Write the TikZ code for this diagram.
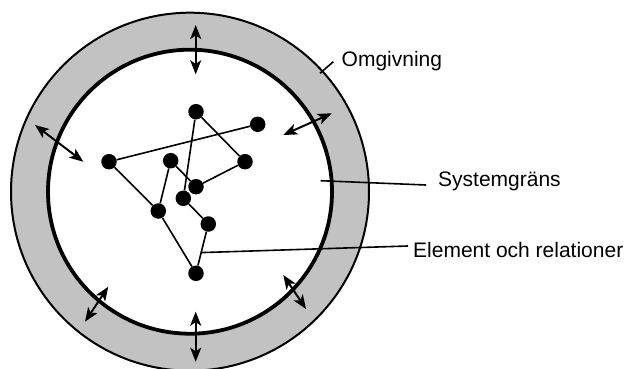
\documentclass[tikz,border=0pt]{standalone}
\usepackage{fontspec}
\setmainfont{Liberation Sans}
\usetikzlibrary{arrows.meta,calc}
\definecolor{ringgray}{RGB}{194,194,194}
\tikzset{
  dot/.style={circle,fill=black,inner sep=0pt,minimum size=15.5pt},
  rel/.style={line width=1.6pt},
  flow/.style={line width=2pt,{Stealth[length=14pt,width=11pt,inset=3.5pt]}-{Stealth[length=14pt,width=11pt,inset=3.5pt]}},
  lbl/.style={anchor=base west,inner sep=0pt,font=\fontsize{21}{25}\selectfont},
  pointer/.style={line width=1.6pt}
}
\begin{document}
\begin{tikzpicture}[x=1pt,y=-1pt]
\useasboundingbox (0,0) rectangle (627,369);
\begin{scope}
\clip (0,0) rectangle (627,369);
% environment ring and system boundary
\coordinate (ctr) at (190,191.7);
\fill[ringgray,draw=black,line width=2pt] (ctr) circle[radius=179];
\fill[white,draw=black,line width=3.8pt] (ctr) circle[radius=142];
\end{scope}

% elements
\node[dot] (A) at (196,111.7) {};
\node[dot] (B) at (257.7,124.3) {};
\node[dot] (C) at (109,161.7) {};
\node[dot] (D) at (170.7,160.7) {};
\node[dot] (E) at (245,161.7) {};
\node[dot] (F) at (196,186.7) {};
\node[dot] (G) at (183.3,198.3) {};
\node[dot] (H) at (158.3,211) {};
\node[dot] (I) at (208.3,224) {};
\node[dot] (J) at (196,273.3) {};

% relations
\draw[rel] (C) -- (B);
\draw[rel] (A) -- (E);
\draw[rel] (E) -- (F);
\draw[rel] (A) -- (G);
\draw[rel] (C) -- (H);
\draw[rel] (D) -- (H);
\draw[rel] (D) -- (F);
\draw[rel] (G) -- (I);
\draw[rel] (H) -- (J);
\draw[rel] (I) -- (J);

% exchange across the boundary
\coordinate (t1) at (195.7,25);   \coordinate (t2) at (195.7,74.3);
\coordinate (b1) at (195.7,311.7); \coordinate (b2) at (195.7,361.7);
\coordinate (ul1) at (35,125);    \coordinate (ul2) at (83.3,161.7);
\coordinate (ur1) at (283.3,135); \coordinate (ur2) at (331.7,113.3);
\coordinate (ll1) at (85,321.7);  \coordinate (ll2) at (108.3,286.7);
\coordinate (lr1) at (283.3,275); \coordinate (lr2) at (306,309);
\draw[flow] (t1) -- (t2);
\draw[flow] (b1) -- (b2);
\draw[flow] (ul1) -- (ul2);
\draw[flow] (ur1) -- (ur2);
\draw[flow] (ll1) -- (ll2);
\draw[flow] (lr1) -- (lr2);

% labels
\node[lbl] (omg) at (341.5,66.5) {Omgivning};
\node[lbl] (sys) at (438,186.5) {Systemgräns};
\node[lbl] (elr) at (413,257) {Element och relationer};

\coordinate (omgA) at (320,73.3);  \coordinate (omgB) at (333.3,61.7);
\coordinate (sysA) at (320.7,180.7); \coordinate (sysB) at (426,185);
\coordinate (elrA) at ($(I)!0.58!(J)$); \coordinate (elrB) at (408,246);
\draw[pointer] (omgA) -- (omgB);
\draw[pointer] (sysA) -- (sysB);
\draw[pointer] (elrA) -- (elrB);
\end{tikzpicture}
\end{document}
